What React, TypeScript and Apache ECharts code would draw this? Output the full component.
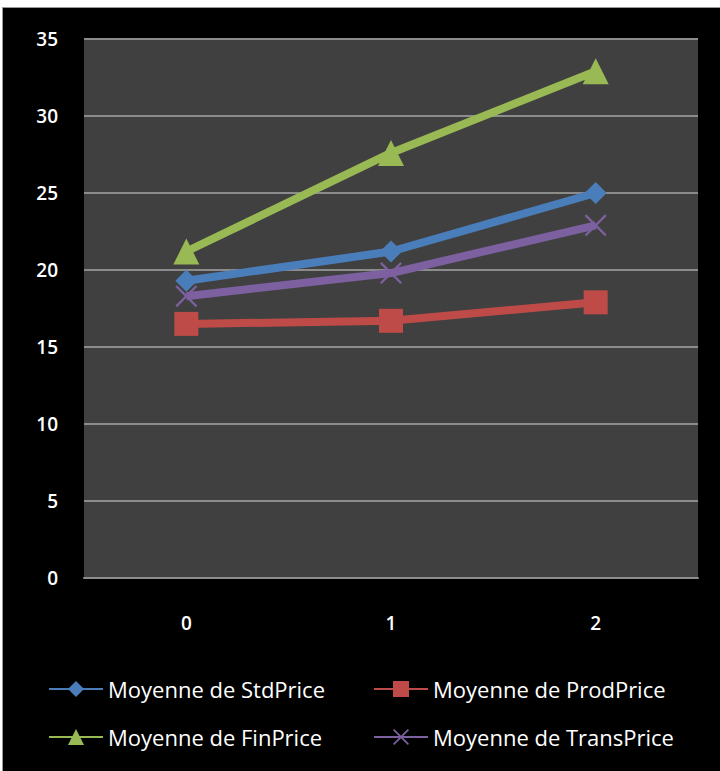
import React, { useEffect, useRef } from "react";
import * as echarts from "echarts";

const categories = ["0", "1", "2"];
const stdPrice = [19.3, 21.2, 25.0];
const prodPrice = [16.5, 16.7, 17.9];
const finPrice = [21.2, 27.6, 32.9];
const transPrice = [18.3, 19.8, 22.9];
const seriesNames = [
  "Moyenne de StdPrice",
  "Moyenne de ProdPrice",
  "Moyenne de FinPrice",
  "Moyenne de TransPrice",
];
const colors = ["#4A7EBB", "#BE4B48", "#98B954", "#7D60A0"];

const crossPath =
  "path://M0,1.5 L1.5,0 L10,8.5 L18.5,0 L20,1.5 L11.5,10 L20,18.5 L18.5,20 L10,11.5 L1.5,20 L0,18.5 L8.5,10 Z";

export default function App() {
  const ref = useRef<HTMLDivElement>(null);
  useEffect(() => {
    if (!ref.current) return;
    const chart = echarts.init(ref.current, null, { renderer: "svg" });
    const font = "'Open Sans', sans-serif";
    const legendBase = {
      orient: "horizontal",
      padding: 0,
      itemWidth: 54,
      itemHeight: 20,
      textStyle: { color: "#ffffff", fontSize: 22, fontWeight: 500, fontFamily: font },
    };
    const mk = (i: number, data: number[], symbol: string, size: number) => ({
      name: seriesNames[i],
      type: "line",
      data,
      symbol,
      symbolSize: size,
      lineStyle: { width: 8, color: colors[i] },
      itemStyle: { color: colors[i] },
      emphasis: { disabled: true },
    });
    chart.setOption({
      animation: false,
      backgroundColor: "#000000",
      color: colors,
      grid: {
        left: 81,
        right: 22,
        top: 31,
        bottom: 193,
        show: true,
        backgroundColor: "#404040",
        borderWidth: 0,
      },
      legend: [
        { ...legendBase, left: 45, top: 670, data: [seriesNames[0]] },
        { ...legendBase, left: 370, top: 670, data: [seriesNames[1]] },
        { ...legendBase, left: 45, top: 718, data: [seriesNames[2]] },
        { ...legendBase, left: 370, top: 718, data: [seriesNames[3]] },
      ],
      xAxis: {
        type: "category",
        data: categories,
        boundaryGap: true,
        axisLine: { lineStyle: { color: "#8C8C8C", width: 2 } },
        axisTick: { show: false },
        axisLabel: { color: "#ffffff", fontSize: 19, fontWeight: 600, fontFamily: font, margin: 35 },
      },
      yAxis: {
        type: "value",
        min: 0,
        max: 35,
        interval: 5,
        axisLine: { show: false },
        axisTick: { show: false },
        splitLine: { lineStyle: { color: "#8C8C8C", width: 2 } },
        axisLabel: { color: "#ffffff", fontSize: 19, fontWeight: 600, fontFamily: font, margin: 26 },
      },
      series: [
        mk(0, stdPrice, "diamond", 22),
        mk(1, prodPrice, "rect", 24),
        mk(2, finPrice, "triangle", 26),
        mk(3, transPrice, crossPath, 22),
      ],
    });
    return () => chart.dispose();
  }, []);
  return (
    <div style={{ position: "absolute", left: 0, top: 0, width: 720, height: 771, background: "#ffffff" }}>
      <div
        style={{
          position: "absolute",
          left: 2,
          top: 7,
          width: 718,
          height: 764,
          borderLeft: "1px solid #999",
          borderTop: "1px solid #999",
          boxSizing: "border-box",
        }}
      >
        <div ref={ref} style={{ width: 717, height: 763 }} />
      </div>
    </div>
  );
}
